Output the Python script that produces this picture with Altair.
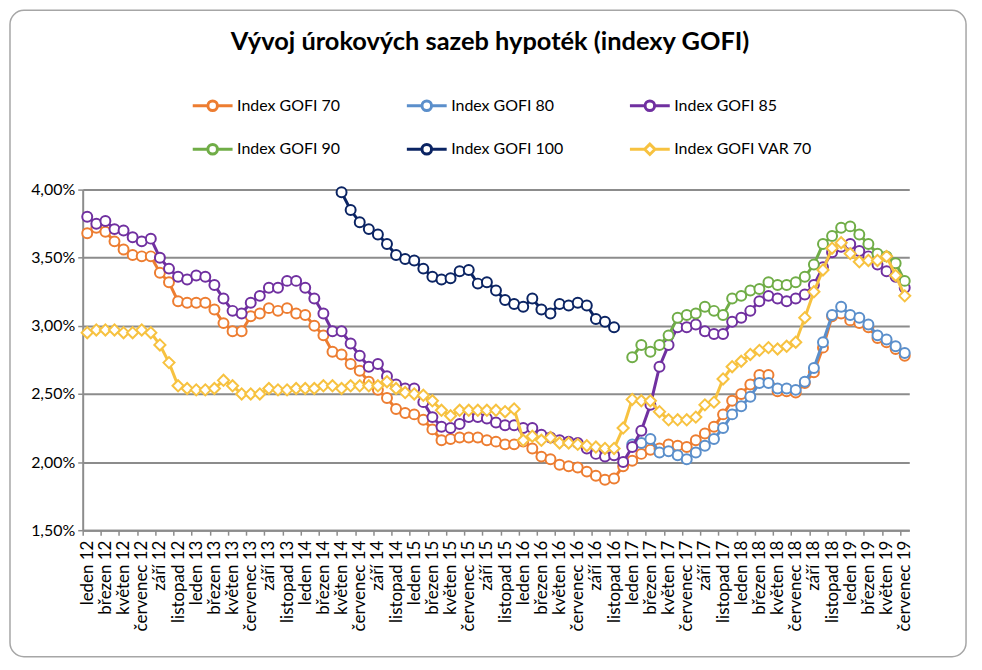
import altair as alt
import pandas as pd

# ---------------- data ----------------
MONTHS = ["leden", "únor", "březen", "duben", "květen", "červen", "červenec",
          "srpen", "září", "říjen", "listopad", "prosinec"]
YEARS = ["12", "13", "14", "15", "16", "17", "18", "19"]
categories = [f"{m} {y}" for y in YEARS for m in MONTHS][:91]   # leden 12 .. červenec 19
tick_labels = categories[::2]

series_names = ["Index GOFI 70", "Index GOFI 80", "Index GOFI 85",
                "Index GOFI 90", "Index GOFI 100", "Index GOFI VAR 70"]
series_colors = ["#ED7D31", "#5B8FCB", "#7030A0", "#70AD47", "#0B2463", "#F7C240"]

# first month index of each series
gofi70_start = 0
gofi70 = [3.68, 3.72, 3.69, 3.62, 3.56, 3.52, 3.51, 3.51, 3.39, 3.32, 3.18, 3.17,
          3.17, 3.17, 3.12, 3.02, 2.96, 2.96, 3.07, 3.09, 3.13, 3.11, 3.13, 3.09,
          3.08, 3.00, 2.93, 2.81, 2.79, 2.72, 2.67, 2.59, 2.53, 2.47, 2.39, 2.36,
          2.35, 2.31, 2.24, 2.16, 2.17, 2.18, 2.18, 2.18, 2.16, 2.15, 2.13, 2.13,
          2.15, 2.10, 2.04, 2.02, 1.98, 1.97, 1.96, 1.93, 1.90, 1.87, 1.88, 1.97,
          2.01, 2.06, 2.09, 2.10, 2.13, 2.12, 2.11, 2.16, 2.21, 2.26, 2.35, 2.45,
          2.50, 2.57, 2.64, 2.64, 2.52, 2.52, 2.51, 2.58, 2.66, 2.84, 3.07, 3.09,
          3.04, 3.02, 2.99, 2.91, 2.88, 2.83, 2.78]

gofi80_start = 60
gofi80 = [2.13, 2.14, 2.17, 2.07, 2.08, 2.05, 2.02, 2.07, 2.12, 2.17, 2.25, 2.35,
          2.41, 2.48, 2.58, 2.58, 2.54, 2.54, 2.53, 2.59, 2.69, 2.88, 3.08, 3.14,
          3.08, 3.06, 3.01, 2.93, 2.90, 2.85, 2.80]

gofi85_start = 0
gofi85 = [3.80, 3.75, 3.77, 3.71, 3.70, 3.65, 3.62, 3.64, 3.50, 3.42, 3.36, 3.34,
          3.37, 3.36, 3.30, 3.20, 3.11, 3.09, 3.17, 3.22, 3.28, 3.28, 3.33, 3.33,
          3.28, 3.20, 3.09, 2.96, 2.96, 2.87, 2.78, 2.70, 2.72, 2.63, 2.57, 2.54,
          2.54, 2.44, 2.33, 2.26, 2.25, 2.28, 2.33, 2.33, 2.32, 2.29, 2.27, 2.27,
          2.25, 2.25, 2.20, 2.18, 2.16, 2.15, 2.14, 2.10, 2.06, 2.04, 2.05, 2.00,
          2.11, 2.23, 2.42, 2.70, 2.86, 2.99, 2.99, 3.01, 2.96, 2.94, 2.94, 3.03,
          3.06, 3.11, 3.18, 3.22, 3.20, 3.18, 3.20, 3.23, 3.30, 3.43, 3.54, 3.58,
          3.60, 3.55, 3.51, 3.45, 3.40, 3.36, 3.28]

gofi90_start = 60
gofi90 = [2.77, 2.86, 2.81, 2.86, 2.93, 3.06, 3.08, 3.09, 3.14, 3.11, 3.08, 3.20,
          3.22, 3.26, 3.27, 3.32, 3.30, 3.30, 3.32, 3.36, 3.45, 3.60, 3.66, 3.72,
          3.73, 3.67, 3.60, 3.53, 3.51, 3.46, 3.33]

gofi100_start = 28
gofi100 = [3.98, 3.85, 3.76, 3.71, 3.67, 3.60, 3.52, 3.49, 3.48, 3.42, 3.36, 3.34,
           3.35, 3.40, 3.41, 3.31, 3.32, 3.26, 3.19, 3.16, 3.14, 3.20, 3.12, 3.09,
           3.16, 3.15, 3.17, 3.15, 3.05, 3.03, 2.99]

var70_start = 0
var70 = [2.95, 2.97, 2.97, 2.97, 2.95, 2.95, 2.97, 2.95, 2.86, 2.73, 2.56, 2.54,
         2.53, 2.53, 2.54, 2.60, 2.56, 2.50, 2.50, 2.50, 2.54, 2.53, 2.53, 2.54,
         2.54, 2.54, 2.56, 2.56, 2.54, 2.56, 2.56, 2.56, 2.56, 2.59, 2.54, 2.51,
         2.50, 2.49, 2.45, 2.38, 2.34, 2.38, 2.38, 2.38, 2.38, 2.38, 2.37, 2.39,
         2.16, 2.19, 2.16, 2.18, 2.14, 2.14, 2.13, 2.12, 2.11, 2.10, 2.10, 2.25,
         2.46, 2.45, 2.45, 2.37, 2.31, 2.31, 2.31, 2.33, 2.42, 2.44, 2.61, 2.70,
         2.74, 2.79, 2.82, 2.84, 2.83, 2.85, 2.88, 3.06, 3.25, 3.41, 3.57, 3.61,
         3.53, 3.47, 3.48, 3.48, 3.51, 3.37, 3.22]

series_values = [(gofi70_start, gofi70), (gofi80_start, gofi80), (gofi85_start, gofi85),
                 (gofi90_start, gofi90), (gofi100_start, gofi100), (var70_start, var70)]

rows = []
for name, (start, vals) in zip(series_names, series_values):
    for k, v in enumerate(vals):
        rows.append({"mesic": categories[start + k], "series": name, "value": v})
df = pd.DataFrame(rows)

# ---------------- style ----------------
FONT = "Lato"
W, H = 830, 342
STEP = W / len(categories)
GRID = "#8C8C8C"

CIRCLE_SYM = "M-1,0L-0.24,0M0.24,0L1,0M-0.24,0A0.24,0.24,0,1,1,0.24,0A0.24,0.24,0,1,1,-0.24,0Z"
DIAMOND_SYM = "M-1,0L-0.26,0M0.26,0L1,0M0,-0.26L0.26,0L0,0.26L-0.26,0Z"
legend_shapes = [DIAMOND_SYM if "VAR" in n else CIRCLE_SYM for n in series_names]

legend = alt.Legend(
    title=None, orient="none", legendX=109, legendY=-106, columns=3,
    direction="horizontal", symbolSize=1600, symbolOpacity=1,
    symbolStrokeWidth=3, symbolFillColor="white", labelFont=FONT,
    labelFontSize=16, labelColor="black", labelOffset=3, columnPadding=60,
    rowPadding=11, padding=0,
)

x_enc = alt.X(
    "mesic:O", sort=categories,
    scale=alt.Scale(type="point", padding=0.5),
    axis=alt.Axis(values=tick_labels, title=None, labelAngle=-90, labelFont=FONT,
                  labelFontSize=17, labelColor="black", labelPadding=5,
                  tickOffset=-STEP / 2, labelOffset=STEP / 2, tickSize=5,
                  tickColor=GRID, tickWidth=1.5, domainColor=GRID, domainWidth=2,
                  grid=False, labelOverlap=False),
)
y_enc = alt.Y(
    "value:Q",
    scale=alt.Scale(domain=[1.5, 4.0], nice=False, zero=False),
    axis=alt.Axis(values=[1.5, 2.0, 2.5, 3.0, 3.5, 4.0], title=None,
                  labelExpr="replace(format(datum.value, '.2f'), '.', ',') + '%'",
                  labelFont=FONT, labelFontSize=16, labelColor="black",
                  labelPadding=3, tickSize=5, tickColor=GRID, tickWidth=1.5,
                  domainColor=GRID, domainWidth=2, grid=True, gridColor=GRID,
                  gridWidth=2),
)
stroke_enc = alt.Stroke("series:N", scale=alt.Scale(domain=series_names, range=series_colors),
                        legend=legend)
shape_enc = alt.Shape("series:N", scale=alt.Scale(domain=series_names, range=legend_shapes),
                      legend=legend)

frame = alt.Chart(pd.DataFrame({"f": [0]})).mark_rect(
    fillOpacity=0, stroke="#A6A6A6", strokeWidth=1.5, cornerRadius=14
).encode(x=alt.value(-73), x2=alt.value(887), y=alt.value(-180), y2=alt.value(469))

layers = [frame]
base = alt.Chart(df)
# invisible layer that only feeds the legend symbols (line + marker)
layers.append(base.mark_point(opacity=0, filled=True, fill="white").encode(
    x=x_enc, y=y_enc, stroke=stroke_enc, shape=shape_enc))
for name in series_names:
    shape = "diamond" if "VAR" in name else "circle"
    size = 125 if shape == "diamond" else 100
    sub = base.transform_filter(alt.datum.series == name)
    layers.append(sub.mark_line(strokeWidth=3).encode(x=x_enc, y=y_enc, stroke=stroke_enc))
    layers.append(sub.mark_point(shape=shape, size=size, filled=True, fill="white",
                                 strokeWidth=2, opacity=1)
                  .encode(x=x_enc, y=y_enc, stroke=stroke_enc))

chart = alt.layer(*layers).properties(
    width=W, height=H,
    title=alt.TitleParams(
        text="Vývoj úrokových sazeb hypoték (indexy GOFI)", font=FONT, fontSize=25.5,
        fontWeight="bold", color="black", anchor="middle", frame="group",
        baseline="bottom", offset=-71, dx=-6),
    autosize=alt.AutoSizeParams(type="none"),
    padding={"left": 75, "top": 181, "right": 65, "bottom": 131},
).configure_view(stroke=None)

chart.save("out.html", embed_options={"renderer": "svg", "actions": False})
